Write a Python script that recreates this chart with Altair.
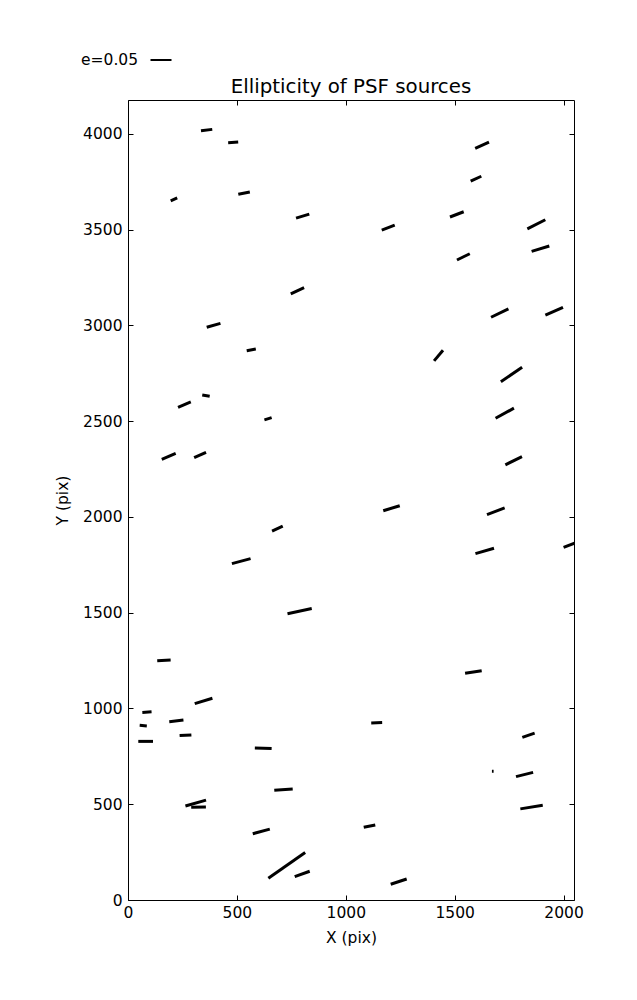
import math
import altair as alt
import pandas as pd

# source positions (pix), ellipticity and position angle (deg)
xs = [361, 483, 211, 533, 802, 778, 1626, 1598, 1510, 1195, 1875, 1894, 1540,
      393, 566, 358, 259, 643, 187, 331, 1707, 1957, 1426, 1761, 1730, 1771,
      686, 520, 788, 165, 347, 1210, 1689, 1638, 2039, 1586,
      87, 222, 70, 264, 81, 621, 714, 311, 324, 612, 729, 800,
      1142, 1839, 1675, 1821, 1853, 1109, 1243]
ys = [4019, 3955, 3657, 3690, 3570, 3180, 3940, 3765, 3579, 3510, 3527, 3400, 3357,
      3000, 2872, 2633, 2586, 2512, 2316, 2323, 3064, 3073, 2842, 2743, 2541, 2293,
      1939, 1769, 1508, 1251, 1039, 2045, 2029, 1822, 1858, 1190,
      981, 935, 910, 860, 828, 792, 576, 506, 485, 358, 181, 136,
      925, 860, 672, 655, 485, 386, 96]
es = [0.027, 0.024, 0.017, 0.028, 0.033, 0.035, 0.036, 0.028, 0.035, 0.033, 0.048, 0.044, 0.034,
      0.034, 0.022, 0.018, 0.033, 0.018, 0.036, 0.031, 0.046, 0.046, 0.033, 0.061, 0.050, 0.044,
      0.028, 0.046, 0.059, 0.032, 0.044, 0.041, 0.045, 0.046, 0.043, 0.040,
      0.022, 0.034, 0.017, 0.028, 0.035, 0.040, 0.044, 0.051, 0.035, 0.042, 0.107, 0.038,
      0.026, 0.031, 0.004, 0.042, 0.054, 0.028, 0.040]
angles = [7, 4, 24, 11, 17, 25, 24, 25, 21, 21, 27, 17, 26,
          16, 11, -10, 23, 17, 23, 24, 26, 24, 50, 34, 29, 26,
          25, 15, 12, 3, 17, 17, 21, 16, 21, 9,
          4, 7, -5, 3, 0, -2, 4, 16, 1, 15, 35, 20,
          2, 19, 0, 14, 9, 11, 18]

x_ticks = [0, 500, 1000, 1500, 2000]
y_ticks = [0, 500, 1000, 1500, 2000, 2500, 3000, 3500, 4000]
key_e = 0.05
key_label = "e=0.05"
title_text = "Ellipticity of PSF sources"

XMAX, YMAX = 2048, 4176
W, H = 446, 800
SCALE = 420.0  # pixels per unit ellipticity (whisker length)
sx, sy = W / XMAX, H / YMAX

rows = []
for x, y, e, a in zip(xs, ys, es, angles):
    h = e * SCALE / 2
    t = math.radians(a)
    dx = h * math.cos(t) / sx
    dy = h * math.sin(t) / sy
    rows.append({"x": x, "y": y, "x1": x - dx, "x2": x + dx, "y1": y - dy, "y2": y + dy})
df = pd.DataFrame(rows)

FONT = "DejaVu Sans"
xsc = alt.Scale(domain=[0, XMAX], nice=False, zero=False)
ysc = alt.Scale(domain=[0, YMAX], nice=False, zero=False)

seg = alt.Chart(df).mark_rule(color="black", strokeWidth=3, strokeCap="butt", clip=True).encode(
    x=alt.X("x1:Q", scale=xsc, axis=alt.Axis(orient="bottom", values=x_ticks, title="X (pix)",
                                            format="d", labelFlush=False,
                                            tickSize=5, offset=-5, labelPadding=5, titlePadding=10)),
    y=alt.Y("y1:Q", scale=ysc, axis=alt.Axis(orient="left", values=y_ticks, title="Y (pix)",
                                            format="d", labelFlush=False,
                                            tickSize=5, offset=-5, labelPadding=6, titlePadding=12)),
    x2="x2:Q",
    y2="y2:Q",
)

frame_ticks = alt.Chart(df).mark_point(opacity=0).encode(
    x=alt.X("x:Q", scale=xsc, axis=alt.Axis(orient="top", values=x_ticks, title=None, labels=False,
                                           tickSize=5, offset=-5)),
    y=alt.Y("y:Q", scale=ysc, axis=alt.Axis(orient="right", values=y_ticks, title=None, labels=False,
                                           tickSize=5, offset=-5)),
)

key_df = pd.DataFrame({"label": [key_label], "e": [key_e], "title": [title_text]})
key_text = alt.Chart(key_df).mark_text(align="left", baseline="middle", fontSize=15.5, font=FONT,
                                       color="black").encode(
    text="label:N", x=alt.value(-47), y=alt.value(-40))
key_line = alt.Chart(key_df).mark_rule(color="black", strokeWidth=2).encode(
    x=alt.value(22.5), x2=alt.value(22.5 + key_e * SCALE), y=alt.value(-40))
title_mark = alt.Chart(key_df).mark_text(align="center", baseline="alphabetic", fontSize=19.8,
                                         font=FONT, color="black").encode(
    text="title:N", x=alt.value(W / 2), y=alt.value(-7.5))

chart = alt.layer(seg, frame_ticks, key_text, key_line, title_mark).resolve_axis(
    x="independent", y="independent"
).properties(
    width=W, height=H,
    autosize=alt.AutoSizeParams(type="none"),
    padding={"left": 120, "top": 92, "right": 50, "bottom": 80},
).configure_view(
    stroke="black", strokeWidth=1
).configure_axis(
    grid=False, domain=False, tickColor="black", tickWidth=1,
    labelFont=FONT, labelFontSize=15.5, labelColor="black",
    titleFont=FONT, titleFontSize=15.5, titleColor="black", titleFontWeight="normal",
)

chart.save("out.html", embed_options={"renderer": "svg", "actions": False})
